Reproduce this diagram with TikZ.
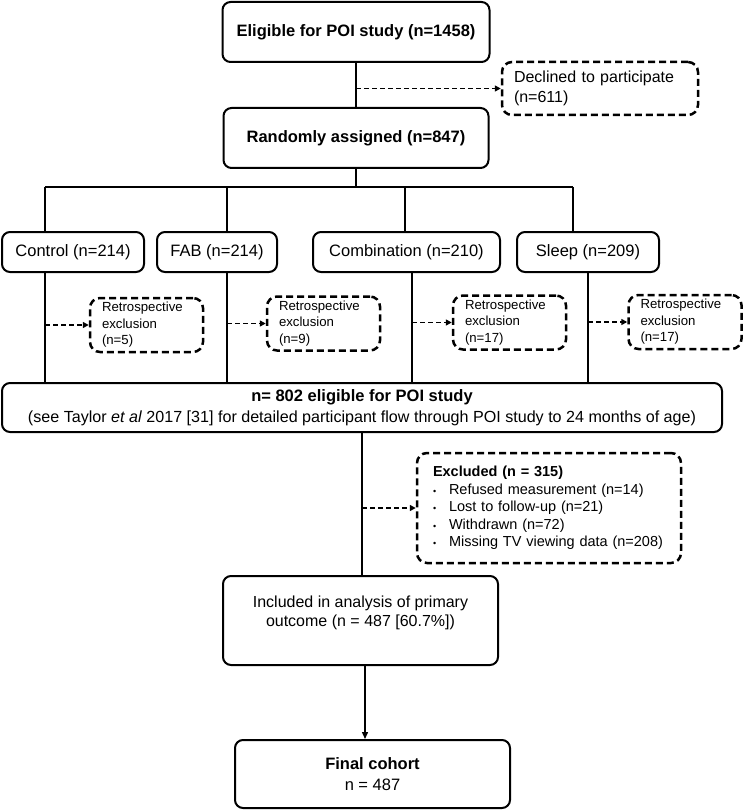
\documentclass[tikz,border=0pt]{standalone}
\usepackage{fontspec}
\setmainfont{Liberation Sans}
\usetikzlibrary{positioning,arrows.meta}

\newcommand{\bul}{\makebox[16pt][l]{\fontsize{9}{9}\selectfont\textbullet}}

\begin{document}
\begin{tikzpicture}[x=1pt, y=-1pt,
  box/.style={draw, line width=2pt, rounded corners=8pt, align=center, inner sep=2pt, font=\fontsize{16.5}{21}\selectfont},
  dbox/.style={draw, line width=2.5pt, dash pattern=on 7pt off 4pt, rounded corners=10pt, align=left, inner sep=2pt},
  line/.style={line width=1.4pt},
  darr/.style={line width=1.7pt, dash pattern=on 5pt off 3pt, -{Triangle[length=6pt,width=6pt]}},
  retro/.style={dbox, minimum width=113pt, minimum height=54pt, text width=89pt, font=\fontsize{13.2}{16.5}\selectfont},
]
\useasboundingbox (0,0) rectangle (743,810);

\node[box, minimum width=267pt, minimum height=60pt] (elig) at (356,32) {\textbf{Eligible for POI study (n=1458)}};
\node[dbox, minimum width=196pt, minimum height=53pt, text width=172pt, font=\fontsize{16}{20}\selectfont] (decl) at (600,88.5) {Declined to participate\\(n=611)};
\node[box, minimum width=265pt, minimum height=60pt] (rand) at (356,138) {\textbf{Randomly assigned (n=847)}};

\node[box, minimum width=142pt, minimum height=40pt] (ctrl) at (73,252) {Control (n=214)};
\node[box, minimum width=120pt, minimum height=40pt] (fab) at (217,252) {FAB (n=214)};
\node[box, minimum width=187pt, minimum height=40pt] (comb) at (406.5,252) {Combination (n=210)};
\node[box, minimum width=142pt, minimum height=40pt] (sleep) at (588,252) {Sleep (n=209)};

\node[retro] (r1) at (146.5,325) {Retrospective\\exclusion\\(n=5)};
\node[retro] (r2) at (323.5,323.5) {Retrospective\\exclusion\\(n=9)};
\node[retro] (r3) at (509.5,322.5) {Retrospective\\exclusion\\(n=17)};
\node[retro] (r4) at (685,322) {Retrospective\\exclusion\\(n=17)};

\node[box, minimum width=720pt, minimum height=49pt] (big) at (362,407.5) {\textbf{n= 802 eligible for POI study}\\{\fontsize{16.1}{21}\selectfont(see Taylor \textit{et al} 2017 [31] for detailed participant flow through POI study to 24 months of age)}};

\node[dbox, minimum width=264pt, minimum height=110pt, text width=232pt, font=\fontsize{14.5}{17.5}\selectfont] (excl) at (549,508) {\textbf{Excluded (n = 315)}\\
\bul Refused measurement (n=14)\\
\bul Lost to follow-up (n=21)\\
\bul Withdrawn (n=72)\\
\bul Missing TV viewing data (n=208)};

\node[box, minimum width=275pt, minimum height=89pt, font=\fontsize{16}{19}\selectfont] (incl) at (360.5,620.5) {Included in analysis of primary\\outcome (n = 487 [60.7\%])\\\mbox{}};
\node[box, minimum width=275pt, minimum height=68pt] (final) at (372.5,774) {\textbf{Final cohort}\\n = 487};

% top part
\draw[line] (elig.south) -- (rand.north);
\draw[darr] (elig.south |- decl.west) -- (decl.west);

% split into the four groups
\coordinate (t1) at (45,187);
\coordinate (t2) at (227,187);
\coordinate (t3) at (405,187);
\coordinate (t4) at (573,187);
\draw[line] (rand.south) -- (rand.south |- t1);
\draw[line] (t1) -- (t4);
\draw[line] (t1) -- (t1 |- ctrl.north);
\draw[line] (t2) -- (t2 |- fab.north);
\draw[line] (t3) -- (t3 |- comb.north);
\draw[line] (t4) -- (t4 |- sleep.north);

% groups down to the joint box
\coordinate (u1) at (45,0);
\coordinate (u2) at (227,0);
\coordinate (u3) at (412,0);
\coordinate (u4) at (588,0);
\draw[line] (u1 |- ctrl.south) -- (u1 |- big.north);
\draw[line] (u2 |- fab.south) -- (u2 |- big.north);
\draw[line] (u3 |- comb.south) -- (u3 |- big.north);
\draw[line] (u4 |- sleep.south) -- (u4 |- big.north);
\draw[darr] (u1 |- r1.west) -- (r1.west);
\draw[darr] (u2 |- r2.west) -- (r2.west);
\draw[darr] (u3 |- r3.west) -- (r3.west);
\draw[darr] (u4 |- r4.west) -- (r4.west);

% bottom part
\draw[line] (big.south) -- (big.south |- incl.north);
\draw[darr] (big.south |- excl.west) -- (excl.west);
\coordinate (m) at (365,0);
\draw[line, -{Triangle[length=7pt,width=6pt]}] (m |- incl.south) -- (m |- final.north);

\end{tikzpicture}
\end{document}
